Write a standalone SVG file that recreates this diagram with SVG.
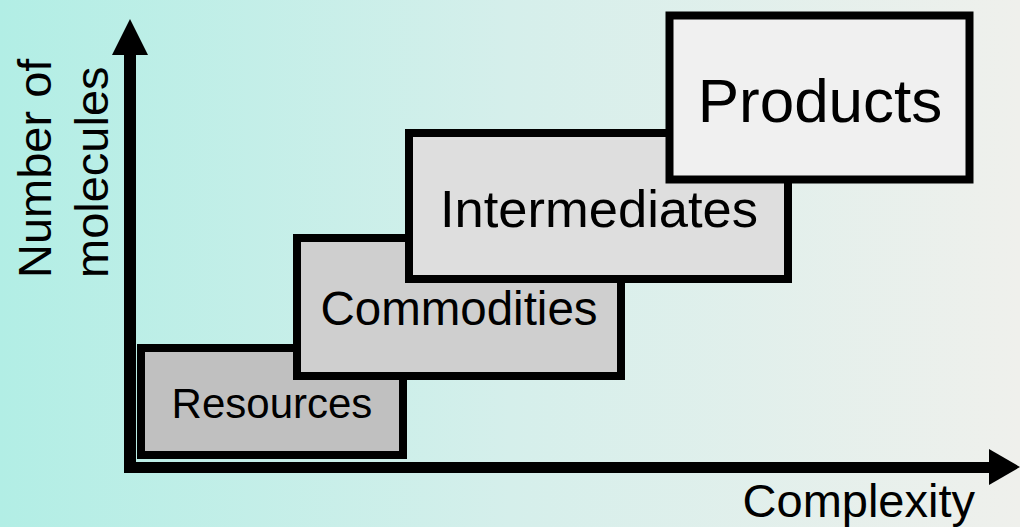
<svg xmlns="http://www.w3.org/2000/svg" width="1020" height="527" viewBox="0 0 1020 527">
  <defs>
    <linearGradient id="bg" x1="0" y1="0" x2="1" y2="0">
      <stop offset="0" stop-color="#b2eee5"/>
      <stop offset="0.5" stop-color="#d5efeb"/>
      <stop offset="1" stop-color="#eff0ec"/>
    </linearGradient>
  </defs>
  <style>
    .box { stroke: #000; stroke-width: 8; }
    .lbl { font-family: "Liberation Sans", Arial, sans-serif; fill: #000; text-anchor: middle; }
    .ax { font-family: "Liberation Sans", Arial, sans-serif; fill: #000; font-size: 47px; }
  </style>
  <rect x="0" y="0" width="1020" height="527" fill="url(#bg)"/>

  <g id="resources">
    <rect class="box" x="141" y="348" width="262" height="107" fill="#c0c0c0"/>
    <text class="lbl" x="272" y="418" font-size="42">Resources</text>
  </g>
  <g id="commodities">
    <rect class="box" x="297" y="238" width="324" height="138" fill="#cfcfcf"/>
    <text class="lbl" x="459" y="325" font-size="47.5">Commodities</text>
  </g>
  <g id="intermediates">
    <rect class="box" x="409" y="133" width="379" height="146" fill="#dedede"/>
    <text class="lbl" x="599" y="227" font-size="52.5">Intermediates</text>
  </g>
  <g id="products">
    <rect class="box" x="669.5" y="15.5" width="300" height="164" fill="#f0f0f0"/>
    <text class="lbl" x="820" y="122" font-size="62">Products</text>
  </g>

  <g id="connectors">
    <line x1="130" y1="473" x2="130" y2="54" stroke="#000" stroke-width="12"/>
    <polygon points="130,19 148,55 112,55" fill="#000"/>
    <line x1="124" y1="467.5" x2="990" y2="467.5" stroke="#000" stroke-width="11"/>
    <polygon points="1020,467 989,449 989,485" fill="#000"/>
  </g>

  <g id="axis-labels">
    <text class="ax" transform="translate(51,278) rotate(-90)" font-size="48">Number of</text>
    <text class="ax" transform="translate(108,278) rotate(-90)" font-size="47">molecules</text>
    <text class="ax" x="975" y="517" text-anchor="end">Complexity</text>
  </g>
</svg>
